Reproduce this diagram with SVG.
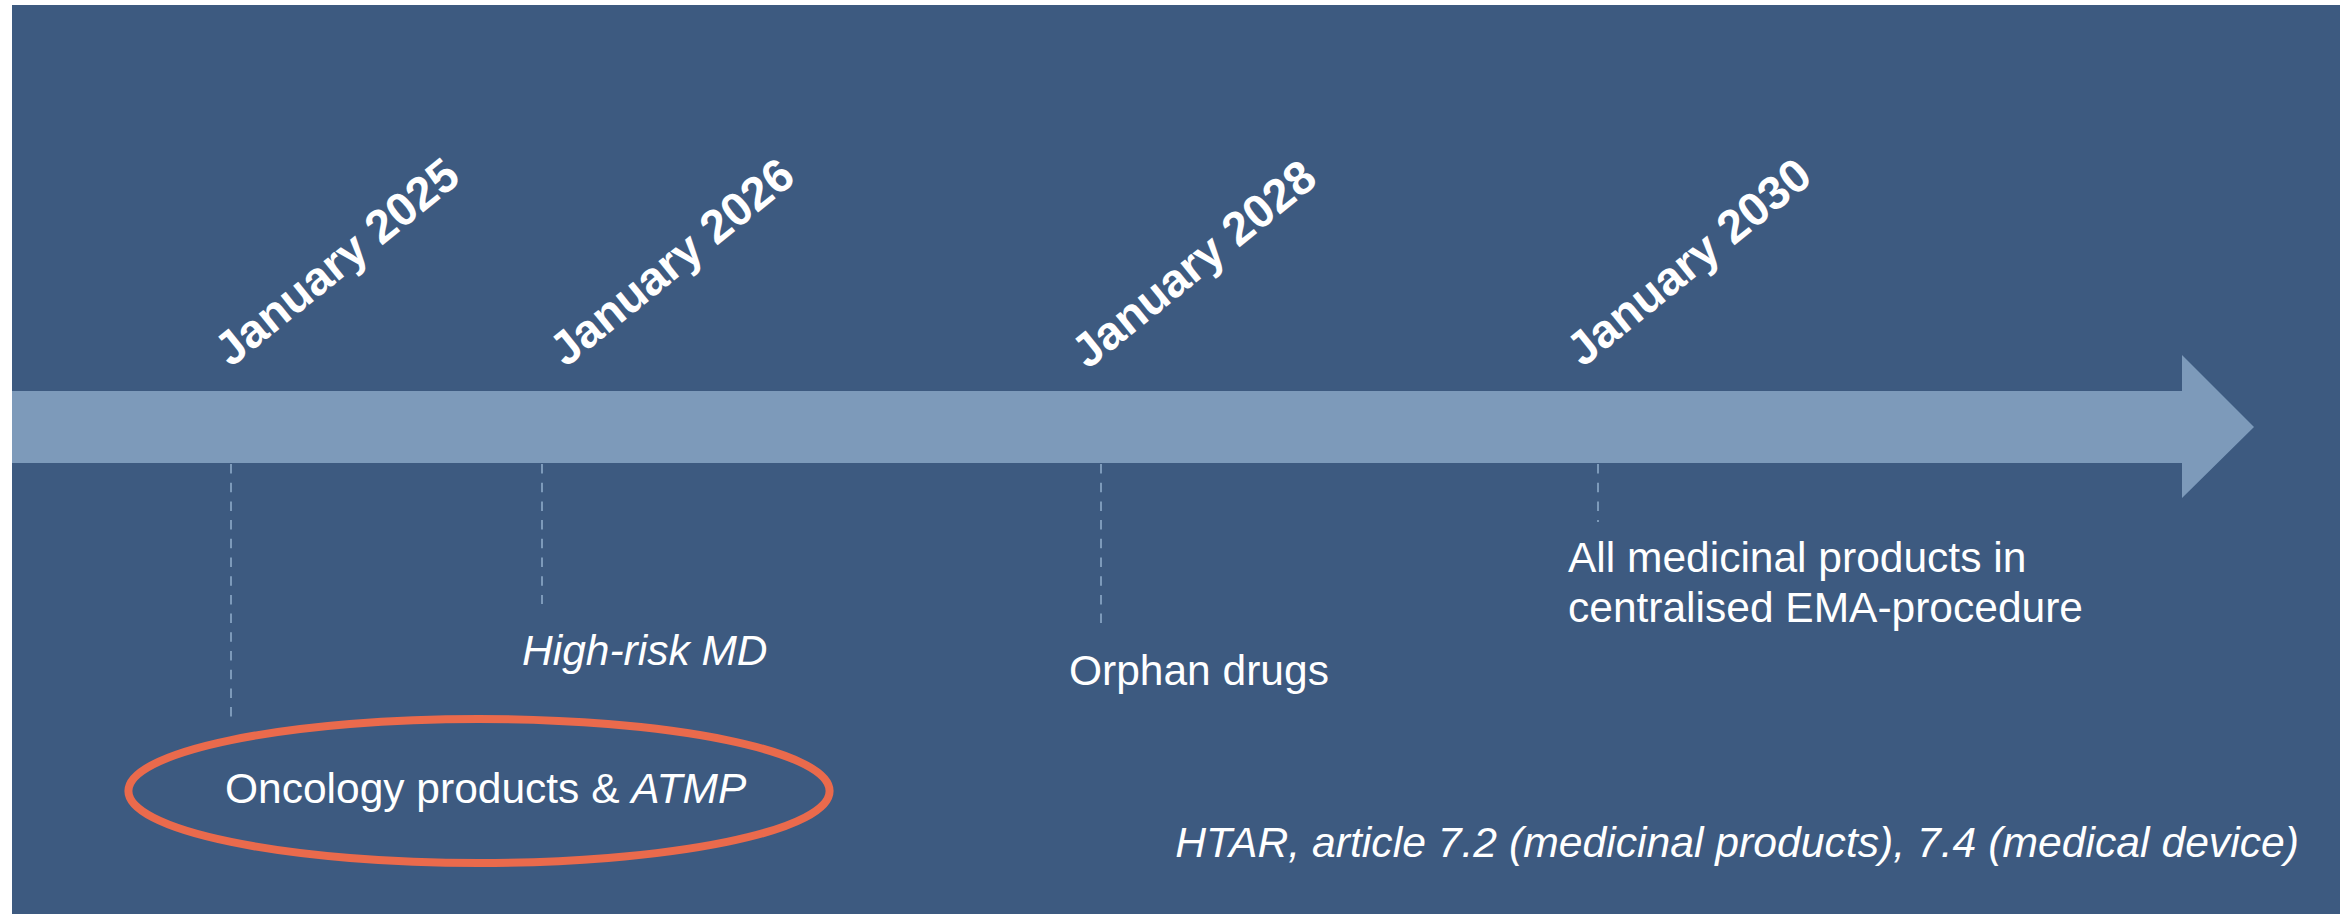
<svg xmlns="http://www.w3.org/2000/svg" width="2351" height="914" viewBox="0 0 2351 914">
  <style>
    .bg { fill: #3d5a80; }
    .band { fill: #7d9aba; }
    .tick { stroke: #7d9aba; stroke-width: 2; stroke-dasharray: 9.5 9.2; fill: none; }
    .date { font-family: "Liberation Sans", Arial, sans-serif; font-weight: bold; font-size: 47px; fill: #ffffff; }
    .label { font-family: "Liberation Sans", Arial, sans-serif; font-size: 42.5px; fill: #ffffff; }
    .it { font-style: italic; }
    .ring { fill: none; stroke: #ea6a4c; stroke-width: 8; }
  </style>

  <!-- panel -->
  <rect class="bg" x="12" y="5" width="2328" height="909"/>

  <!-- timeline arrow -->
  <g id="timeline">
    <polygon class="band" points="12,391 2182,391 2182,355 2254,427 2182,498 2182,463 12,463"/>
  </g>

  <!-- dashed drop lines from the timeline -->
  <g id="connectors">
    <line class="tick" x1="231" y1="464" x2="231" y2="725"/>
    <line class="tick" x1="542" y1="464" x2="542" y2="604"/>
    <line class="tick" x1="1101" y1="464" x2="1101" y2="623"/>
    <line class="tick" x1="1598" y1="464" x2="1598" y2="522"/>
  </g>

  <g id="m2025">
    <text class="date" transform="translate(231,368) rotate(-39)">January 2025</text>
    <ellipse class="ring" cx="479" cy="791" rx="350.6" ry="72"/>
    <text class="label" x="225" y="803">Oncology products &amp; <tspan class="it">ATMP</tspan></text>
  </g>

  <g id="m2026">
    <text class="date" transform="translate(566,368) rotate(-39)">January 2026</text>
    <text class="label it" x="522" y="665">High-risk MD</text>
  </g>

  <g id="m2028">
    <text class="date" transform="translate(1088,370) rotate(-39)">January 2028</text>
    <text class="label" x="1069" y="685">Orphan drugs</text>
  </g>

  <g id="m2030">
    <text class="date" transform="translate(1583,368) rotate(-39)">January 2030</text>
    <text class="label" x="1568" y="572">All medicinal products in</text>
    <text class="label" x="1568" y="622">centralised EMA-procedure</text>
  </g>

  <g id="source">
    <text class="label it" x="2299" y="857" text-anchor="end" style="font-size:42.7px">HTAR, article 7.2 (medicinal products), 7.4 (medical device)</text>
  </g>
</svg>
